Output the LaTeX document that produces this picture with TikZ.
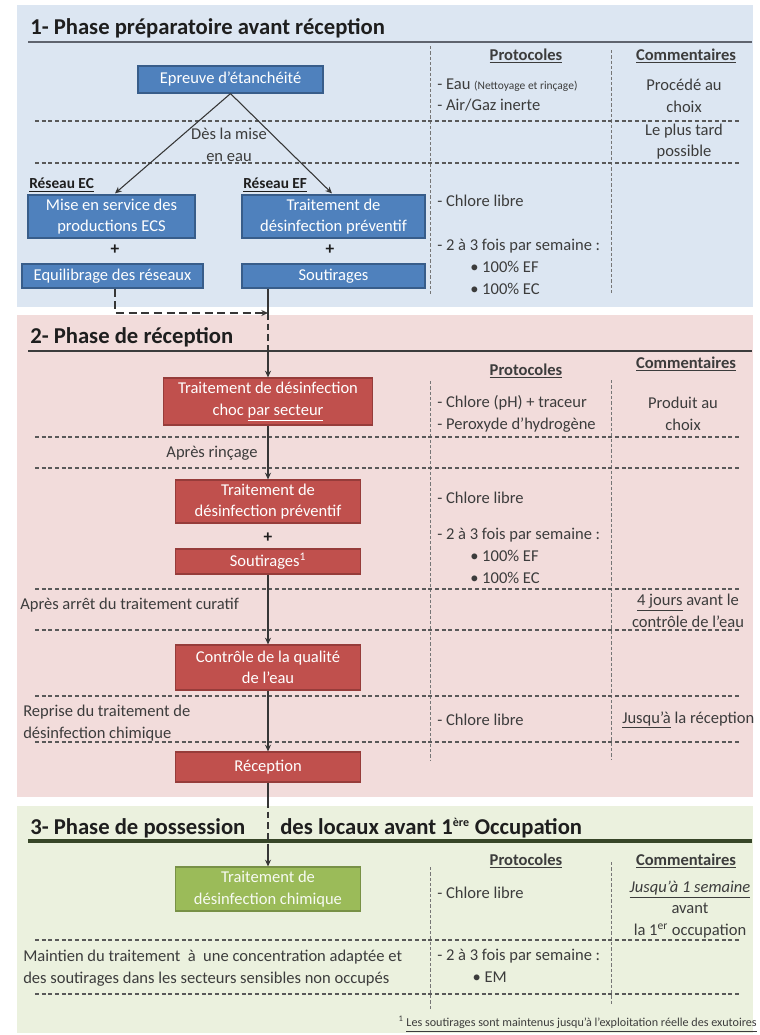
\documentclass[tikz,border=0pt]{standalone}
\usepackage{fontspec}
\setmainfont{Carlito}
\usetikzlibrary{arrows.meta,calc}

\definecolor{bgblue}{RGB}{220,230,242}
\definecolor{bgpink}{RGB}{242,220,219}
\definecolor{bggreen}{RGB}{235,241,222}
\definecolor{boxblue}{RGB}{79,129,189}
\definecolor{boxblueline}{RGB}{56,93,138}
\definecolor{boxred}{RGB}{192,80,77}
\definecolor{boxredline}{RGB}{150,60,58}
\definecolor{boxgreen}{RGB}{155,187,89}
\definecolor{boxgreenline}{RGB}{120,145,70}
\definecolor{ink}{RGB}{60,60,60}
\definecolor{titleink}{RGB}{30,30,30}
\definecolor{rule1}{RGB}{95,100,110}
\definecolor{rule3}{RGB}{55,70,40}

\newcommand\fbody{\fontsize{12.4}{16.2}\selectfont}
\newcommand\fsmall{\fontsize{8.6}{10}\selectfont}
\newcommand\ftitle{\fontsize{17}{20}\selectfont\bfseries}
\newcommand\fhead{\fontsize{12.4}{14}\selectfont\bfseries}
\newcommand\fnet{\fontsize{11.5}{13}\selectfont\bfseries}
\newcommand\fnote{\fontsize{9.1}{11}\selectfont}

\tikzset{
  wh/.style 2 args={minimum width=#1*0.75pt, minimum height=#2*0.75pt},
  stagebox/.style={draw, line width=0.9pt, inner sep=0pt, align=center,
    text=white, font=\fbody},
  bluebox/.style={stagebox, fill=boxblue, draw=boxblueline},
  redbox/.style={stagebox, fill=boxred, draw=boxredline},
  greenbox/.style={stagebox, fill=boxgreen, draw=boxgreenline, text=white!92!boxgreen},
  txt/.style={inner sep=0pt, text=ink, font=\fbody, align=left},
  ctxt/.style={inner sep=0pt, text=ink, font=\fbody, align=center},
  head/.style={inner sep=0pt, text=ink, font=\fhead},
  nethead/.style={inner sep=0pt, anchor=west, text=titleink, font=\fnet},
  phasetitle/.style={inner sep=0pt, anchor=west, text=titleink, font=\ftitle},
  sep/.style={draw=ink!85, line width=0.9pt, dash pattern=on 3pt off 2pt},
  colsep/.style={draw=ink!70, line width=0.5pt, dash pattern=on 2.5pt off 1.5pt},
  flow/.style={draw=ink!90!black, line width=0.8pt},
  arr/.style={flow, -{Stealth[length=5pt,width=4.5pt]}},
  gapdash/.style={dash pattern=on 5pt off 3pt},
  plus/.style={inner sep=0pt, text=titleink, font=\fontsize{13}{13}\selectfont\bfseries},
}

\begin{document}
\begin{tikzpicture}[x=0.75pt,y=-0.75pt]
\useasboundingbox (0,0) rectangle (760,1035);
\fill[white] (0,0) rectangle (760,1035);

% phase backgrounds
\fill[bgblue]  (17,5)   rectangle (753,307);
\fill[bgpink]  (17,315) rectangle (753,797);
\fill[bggreen] (17,806) rectangle (753,1033);

% ---------------- Phase 1 ----------------
\node[phasetitle] (t1) at (30,28) {1- Phase préparatoire avant réception};
\draw[rule1, line width=2pt] (28,42) -- (752,42);

\draw[colsep] (430,46) -- (430,294);
\draw[colsep] (611,50) -- (611,294);
\node[head] (p1) at (526,56) {\underline{Protocoles}};
\node[head] (c1) at (686,56) {\underline{Commentaires}};

\draw[sep] (35,121) -- (740,121);
\draw[sep] (35,163) -- (740,163);

\node[bluebox, wh={185}{27}] (ep) at (230.5,79.5) {Epreuve d'étanchéité};
\node[ctxt] (mise) at (229,145) {Dès la mise\\en eau};

\node[nethead] (rec) at (29,185) {\underline{Réseau EC}};
\node[nethead] (ref) at (243,185) {\underline{Réseau EF}};

\node[bluebox, wh={167}{43}] (ecs) at (111.5,216.5) {Mise en service des\\productions ECS};
\node[bluebox, wh={183}{43}] (tp1) at (333.5,216.5) {Traitement de\\désinfection préventif};
\node[plus] (pl1) at (115,250) {+};
\node[plus] (pl2) at (330,250) {+};
\node[bluebox, wh={181}{24}] (eq) at (112.5,276) {Equilibrage des réseaux};
\node[bluebox, wh={183}{24}] (so1) at (333.5,276) {Soutirages};

\draw[arr] (ep.south) -- ($(ecs.north)+(3.5,-1)$);
\draw[arr] (ep.south) -- ($(tp1.north)+(-1.5,-1)$);

\node[txt, anchor=west] (pe1) at (437,95) {- Eau {\fsmall(Nettoyage et rinçage)}\\- Air/Gaz inerte};
\node[ctxt] (ce1) at (684,96) {Procédé au\\choix};
\node[ctxt] (ce2) at (684,141.5) {Le plus tard\\possible};
\node[txt, anchor=west] (pe2) at (437,201) {- Chlore libre};
\node[txt, anchor=west] (pe3) at (437,246) {- 2 à 3 fois par semaine :};
\node[txt, anchor=west] (pe4) at (470,278) {• 100\% EF\\• 100\% EC};

% ---------------- Phase 2 ----------------
\node[phasetitle] (t2) at (30,337) {2- Phase de réception};
\draw[ink, line width=1.1pt] (28,351) -- (752,351);

\draw[colsep] (430,381) -- (430,760);
\draw[colsep] (611,380) -- (611,760);
\node[head] (p2) at (526,371) {\underline{Protocoles}};
\node[head] (c2) at (686,364) {\underline{Commentaires}};

\draw[sep] (35,437) -- (740,437);
\draw[sep] (35,468) -- (740,468);
\draw[sep] (35,589) -- (740,589);
\draw[sep] (35,630) -- (740,630);
\draw[sep] (35,696) -- (740,696);
\draw[sep] (35,742) -- (740,742);

\node[redbox, wh={209}{47}] (choc) at (268,401.5) {Traitement de désinfection\\choc \underline{par secteur}};
\node[ctxt] (rinc) at (212,453) {Après rinçage};
\node[redbox, wh={185}{43}] (tp2) at (268,501.5) {Traitement de\\désinfection préventif};
\node[plus] (pl3) at (268,538) {+};
\node[redbox, wh={185}{25}] (so2) at (268,561.5) {Soutirages\textsuperscript{1}};
\node[txt, anchor=west] (arret) at (20,605) {Après arrêt du traitement curatif};
\node[redbox, wh={185}{45}] (ctrl) at (268,667.5) {Contrôle de la qualité\\de l'eau};
\node[txt, anchor=west] (rep) at (23,723) {Reprise du traitement de\\désinfection chimique};
\node[redbox, wh={185}{30}] (recep) at (268,767) {Réception};

\node[txt, anchor=west] (pr1) at (437,414) {- Chlore (pH) + traceur\\- Peroxyde d'hydrogène};
\node[ctxt] (cr1) at (683,414) {Produit au\\choix};
\node[txt, anchor=west] (pr2) at (437,498) {- Chlore libre};
\node[txt, anchor=west] (pr3) at (437,535) {- 2 à 3 fois par semaine :};
\node[txt, anchor=west] (pr4) at (470,567) {• 100\% EF\\• 100\% EC};
\node[ctxt] (cr2) at (688,611) {\underline{4 jours} avant le\\contrôle de l'eau};
\node[txt, anchor=west] (pr5) at (437,720) {- Chlore libre};
\node[txt, anchor=west] (cr3) at (622,720) {\underline{Jusqu'à} la réception};

% ---------------- Phase 3 ----------------
\node[phasetitle] (t3a) at (30,828) {3- Phase de possession};
\node[phasetitle] (t3b) at (280,828) {des locaux avant 1\textsuperscript{\fontsize{9}{9}\selectfont ère} Occupation};
\draw[rule3, line width=2.4pt] (28,841) -- (752,841);

\draw[colsep] (430,867) -- (430,1010);
\draw[colsep] (611,862) -- (611,1005);
\node[head] (p3) at (526,861) {\underline{Protocoles}};
\node[head] (c3) at (686,861) {\underline{Commentaires}};

\node[greenbox, wh={185}{44}] (chim) at (268,889) {Traitement de\\désinfection chimique};

\draw[sep] (35,940) -- (740,940);
\draw[sep] (35,994) -- (740,994);

\node[txt, anchor=west] (pv1) at (437,893) {- Chlore libre};
\node[ctxt] (cv1) at (690,909.5) {\underline{\itshape Jusqu'à 1 semaine}\\avant\\la 1\textsuperscript{er} occupation};
\node[txt, anchor=west] (main) at (23,968) {Maintien du traitement \ à \ une concentration adaptée et\\des soutirages dans les secteurs sensibles non occupés};
\node[txt, anchor=west] (pv2) at (437,966) {- 2 à 3 fois par semaine :\\\hspace*{26.5pt}• EM};

\node[inner sep=0pt, anchor=east, text=ink, font=\fnote] (fn) at (757,1024) {\textsuperscript{1} \underline{Les soutirages sont maintenus jusqu'à l'exploitation réelle des exutoires}};

% ---------------- flow connectors ----------------
\coordinate (j1) at (268,313);
\coordinate (j2) at (268,352);
\coordinate (k1) at (115,313);
\draw[flow] (so1.south -| j1) -- (j1);
\draw[arr, dash pattern=on 6pt off 3.5pt, line width=1.1pt] (eq.south -| k1) -- (k1) -- (j1);
\draw[flow, gapdash] (j1) -- (j2);
\draw[arr] (j2) -- (choc.north);

\draw[arr] (choc.south) -- (tp2.north);
\draw[arr] (so2.south) -- (ctrl.north);
\draw[arr] (ctrl.south) -- (recep.north);

\coordinate (j3) at (268,801);
\coordinate (j4) at (268,846);
\draw[flow] (recep.south) -- (j3);
\draw[flow, gapdash] (j3) -- (j4);
\draw[arr] (j4) -- (chim.north);
\end{tikzpicture}
\end{document}
